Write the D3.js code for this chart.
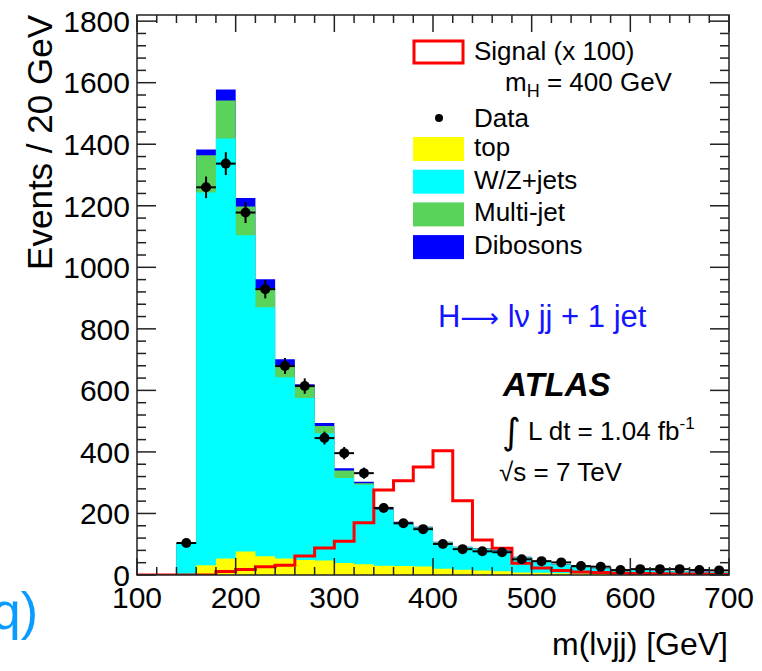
<!DOCTYPE html>
<html>
<head>
<meta charset="utf-8">
<script src="https://cdn.jsdelivr.net/npm/d3@7"></script>
<style>
  html, body { margin: 0; padding: 0; background: #fff; }
  svg { display: block; }
  text { font-family: "Liberation Sans", Arial, Helvetica, sans-serif; }
</style>
</head>
<body>
<svg id="chart" width="762" height="671"></svg>
<script>
// ---------------- data ----------------
const binLowEdges = [100,120,140,160,180,200,220,240,260,280,300,320,340,360,380,400,420,440,460,480,500,520,540,560,580,600,620,640,660,680];
const binWidth = 20;
const topBkg   = [0,0,2,32,54,76,61,54,49,47,39,35,30,29,28,20,17,15,12,8,7,6,5,4,3,3,2,2,2,1];
const wzJets   = [0,0,99,1211,1365,1028,809,589,526,414,276,258,181,140,125,85,72,69,66,48,35,27,19,16,11,13,11,9,7,7];
const multiJet = [0,0,2,121,123,94,62,39,37,23,25,5,2,2,2,2,2,2,2,2,2,1,1,1,1,1,1,1,1,1];
const dibosons = [0,0,1,19,36,27,29,19,8,10,7,5,2,2,2,1,1,1,1,1,1,1,1,1,1,1,1,1,1,1];
const dataCounts = [0,0,104,1260,1337,1178,929,679,614,445,396,331,218,168,149,101,84,77,74,51,45,41,29,27,16,19,19,19,16,15];
const dataErrors = [0,0,10,35,37,34,30,26,25,21,20,18,15,13,12,10,9,9,9,7,7,6,5,5,4,4,4,4,4,4];
const signalX100 = [0,0,0,0,11,18,27,32,62,88,110,170,276,306,351,404,241,114,87,38,23,15,10,8,6,5,4,3,3,2];
const xTickValues = [100,200,300,400,500,600,700];
const yTickValues = [0,200,400,600,800,1000,1200,1400,1600,1800];
const legendLabels = ["Signal (x 100)","Data","top","W/Z+jets","Multi-jet","Dibosons"];
const componentNames = ["top","W/Z+jets","Multi-jet","Dibosons"];
const componentColors = ["#ffff00","#00ffff","#5ad35a","#0000ff"];

// ---------------- layout ----------------
const svg = d3.select("#chart");
const frame = {left:137, right:729, top:15, bottom:575};
const x = d3.scaleLinear().domain([100,700]).range([frame.left, frame.right]);
const y = d3.scaleLinear().domain([0,1820]).range([frame.bottom, frame.top]);

const plot = svg.append("g");
const clipId = "plotclip";
svg.append("defs").append("clipPath").attr("id", clipId)
  .append("rect").attr("x", frame.left).attr("y", frame.top)
  .attr("width", frame.right-frame.left).attr("height", frame.bottom-frame.top);
const inner = plot.append("g").attr("clip-path", `url(#${clipId})`);

// stacked histograms as cumulative step areas (largest drawn first)
const comps = [topBkg, wzJets, multiJet, dibosons];
const cumul = comps.map((_, k) => binLowEdges.map((_, i) => {
  let s = 0; for (let j = 0; j <= k; j++) s += comps[j][i]; return s;
}));
function stepPoints(vals) {
  const pts = binLowEdges.map((e, i) => [e, vals[i]]);
  pts.push([binLowEdges[binLowEdges.length-1] + binWidth, vals[vals.length-1]]);
  return pts;
}
const area = d3.area().curve(d3.curveStepAfter)
  .x(d => x(d[0])).y0(y(0)).y1(d => y(d[1]));
for (let k = comps.length - 1; k >= 0; k--) {
  inner.append("path").datum(stepPoints(cumul[k]))
    .attr("d", area).attr("fill", componentColors[k]).attr("stroke", "none");
}

// signal (x100) outline
const line = d3.line().curve(d3.curveStepAfter).x(d => x(d[0])).y(d => y(d[1]));
inner.append("path").datum(stepPoints(signalX100))
  .attr("d", line).attr("fill", "none").attr("stroke", "#ff0000").attr("stroke-width", 3);

// data points with error bars
const pts = binLowEdges.map((e, i) => ({c: e + binWidth/2, v: dataCounts[i], err: dataErrors[i]}))
  .filter(d => d.v > 0);
const dg = inner.append("g");
dg.selectAll("line.h").data(pts).join("line")
  .attr("x1", d => x(d.c - binWidth/2)).attr("x2", d => x(d.c + binWidth/2))
  .attr("y1", d => y(d.v)).attr("y2", d => y(d.v))
  .attr("stroke", "#000").attr("stroke-width", 2);
dg.selectAll("line.v").data(pts).join("line")
  .attr("x1", d => x(d.c)).attr("x2", d => x(d.c))
  .attr("y1", d => y(d.v - d.err)).attr("y2", d => y(d.v + d.err))
  .attr("stroke", "#000").attr("stroke-width", 2);
dg.selectAll("circle").data(pts).join("circle")
  .attr("cx", d => x(d.c)).attr("cy", d => y(d.v)).attr("r", 5).attr("fill", "#000");

// ---------------- frame and ticks ----------------
const axisG = svg.append("g").attr("stroke", "#222").attr("stroke-width", 1.5);
axisG.append("rect").attr("x", frame.left).attr("y", frame.top)
  .attr("width", frame.right-frame.left).attr("height", frame.bottom-frame.top)
  .attr("fill", "none");
const xMinor = d3.range(100, 701, 20);
xMinor.forEach(v => {
  const major = v % 100 === 0;
  const len = major ? 17 : 8;
  axisG.append("line").attr("x1", x(v)).attr("x2", x(v)).attr("y1", frame.bottom).attr("y2", frame.bottom - len);
  axisG.append("line").attr("x1", x(v)).attr("x2", x(v)).attr("y1", frame.top).attr("y2", frame.top + len);
});
const yMinor = d3.range(0, 1801, 40);
yMinor.forEach(v => {
  const major = v % 200 === 0;
  const len = major ? 19 : 9;
  axisG.append("line").attr("x1", frame.left).attr("x2", frame.left + len).attr("y1", y(v)).attr("y2", y(v));
  axisG.append("line").attr("x1", frame.right).attr("x2", frame.right - len).attr("y1", y(v)).attr("y2", y(v));
});

// tick labels
svg.append("g").selectAll("text").data(yTickValues).join("text")
  .attr("x", 130).attr("y", d => y(d)).attr("dy", "0.36em")
  .attr("text-anchor", "end").attr("font-size", 30).text(d => d);
svg.append("g").selectAll("text").data(xTickValues).join("text")
  .attr("x", d => x(d)).attr("y", 608)
  .attr("text-anchor", "middle").attr("font-size", 30).text(d => d);

// axis titles
svg.append("text").attr("transform", "translate(52,15) rotate(-90)")
  .attr("text-anchor", "end").attr("font-size", 35).text("Events / 20 GeV");
svg.append("text").attr("x", 728).attr("y", 655).attr("text-anchor", "end")
  .attr("font-size", 32).text("m(lνjj) [GeV]");

// ---------------- legend ----------------
const lg = svg.append("g");
lg.append("rect").attr("x", 414).attr("y", 41).attr("width", 49).attr("height", 22)
  .attr("fill", "#fff").attr("stroke", "#ff0000").attr("stroke-width", 3);
lg.append("text").attr("x", 474).attr("y", 60).attr("font-size", 26).text(legendLabels[0]);
const mh = lg.append("text").attr("x", 505).attr("y", 91).attr("font-size", 26);
mh.append("tspan").text("m");
mh.append("tspan").attr("font-size", 18).attr("dy", 6).text("H");
mh.append("tspan").attr("dy", -6).text(" = 400 GeV");
lg.append("circle").attr("cx", 439).attr("cy", 118).attr("r", 4).attr("fill", "#000");
lg.append("text").attr("x", 474).attr("y", 127).attr("font-size", 26).text(legendLabels[1]);
componentNames.forEach((n, k) => {
  const top = 137 + k * 32.7;
  lg.append("rect").attr("x", 413).attr("y", top).attr("width", 51).attr("height", 24)
    .attr("fill", componentColors[k]);
  lg.append("text").attr("x", 474).attr("y", top + 19).attr("font-size", 26).text(legendLabels[k+2]);
});

// ---------------- annotations ----------------
const ht = svg.append("text").attr("x", 438).attr("y", 327).attr("font-size", 31).attr("fill", "#1414ff");
ht.append("tspan").text("H");
ht.append("tspan").attr("font-family", "DejaVu Sans").attr("font-size", 27).text("⟶");
ht.append("tspan").text(" lν jj + 1 jet");

svg.append("text").attr("x", 503).attr("y", 396).attr("font-size", 33)
  .attr("font-weight", "bold").attr("font-style", "italic").text("ATLAS");
const lumi = svg.append("text").attr("x", 502).attr("y", 440).attr("font-size", 26);
lumi.append("tspan").attr("font-size", 36).attr("font-family", "DejaVu Sans").attr("dy", 4).text("∫");
lumi.append("tspan").attr("dy", -4).text("  L dt = 1.04 fb");
lumi.append("tspan").attr("font-size", 17).attr("dy", -11).text("-1");
const rs = svg.append("text").attr("x", 499).attr("y", 481).attr("font-size", 26);
rs.append("tspan").text("√");
rs.append("tspan").text("s = 7 TeV");

// partial panel label on the left
svg.append("text").attr("x", 38).attr("y", 629).attr("text-anchor", "end")
  .attr("font-size", 52).attr("fill", "#0a9bff").text("q)");
</script>
</body>
</html>
